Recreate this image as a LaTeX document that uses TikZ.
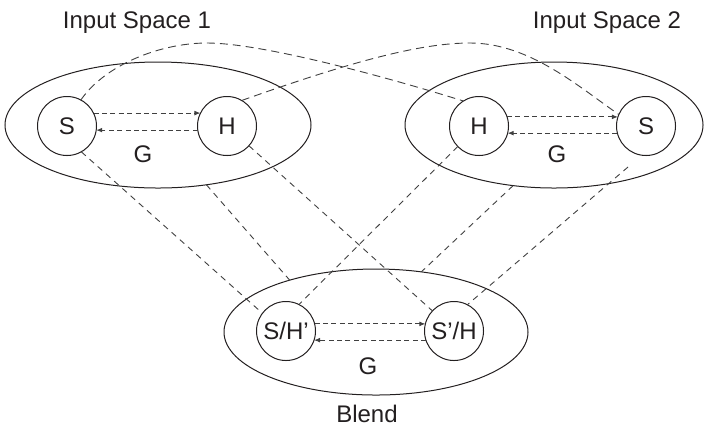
\documentclass[tikz,border=0pt]{standalone}
\usepackage{fontspec}
\setmainfont{Liberation Sans}
\usetikzlibrary{shapes.geometric,arrows.meta}
\definecolor{ink}{HTML}{231F20}
\begin{document}
\begin{tikzpicture}[x=0.5pt,y=-0.5pt,
  font=\fontsize{12}{14}\selectfont, text=ink,
  spacebox/.style={draw=ink, line width=0.5pt, ellipse, inner sep=0pt, outer sep=0pt},
  elem/.style={draw=ink, line width=0.5pt, circle, minimum size=29.5pt, inner sep=0pt, outer sep=0pt},
  rel/.style={draw=black!75, line width=0.45pt, dash pattern=on 2.5pt off 1.7pt, -{Latex[length=3pt,width=2.4pt]}},
  corr/.style={draw=black!75, line width=0.45pt, dash pattern=on 3pt off 2.5pt},
  corrc/.style={draw=black!75, line width=0.45pt, dash pattern=on 4pt off 2.5pt},
  lbl/.style={anchor=base, inner sep=0pt}
]
\useasboundingbox (0,0) rectangle (704,425);

% spaces
\node[spacebox, minimum width=153pt, minimum height=63pt] (E1) at (158,125) {};
\node[spacebox, minimum width=149pt, minimum height=63pt] (E2) at (554,125) {};
\node[spacebox, minimum width=152pt, minimum height=63pt] (E3) at (376,332) {};

% elements
\node[elem] (S1) at (67,126) {S};
\node[elem] (H1) at (227,126) {H};
\node[elem] (H2) at (479,126) {H};
\node[elem] (S2) at (646,126) {S};
\node[elem] (SH) at (286,331) {S/H’};
\node[elem] (HS) at (454,331) {S’/H};

% labels
\node[lbl] (T1) at (137,28) {Input Space 1};
\node[lbl] (T2) at (607,28) {Input Space 2};
\node[lbl] (T3) at (367,422) {Blend};
\node[lbl] (G1) at (143,162) {G};
\node[lbl] (G2) at (557,162) {G};
\node[lbl] (G3) at (368,374) {G};

% relations inside spaces
\draw[rel] (S1.26) -- (H1.154);
\draw[rel] (H1.188) -- (S1.-8);
\draw[rel] (H2.18) -- (S2.162);
\draw[rel] (S2.194) -- (H2.-14);
\draw[rel] (SH.14) -- (HS.166);
\draw[rel] (HS.198) -- (SH.-18);

% cross-space curves
\draw[corrc] (S1.62) .. controls (105,65) and (160,43) .. (207,43)
  .. controls (260,43) and (380,75) .. (H2.122);
\draw[corrc] (H1.60) .. controls (350,62) and (420,43) .. (470,43)
  .. controls (530,43) and (580,88) .. (S2.157);

% projections to blend
\coordinate (S2b) at (628,167);
\draw[corr] (S1.-61) -- (SH.143);
\draw[corr] (E1.-51) -- (E3.149);
\draw[corr] (H1.-42) -- (HS.137);
\draw[corr] (H2.224) -- (SH.64);
\draw[corr] (E2.236) -- (E3.53);
\draw[corr] (S2b) -- (HS.63);
\end{tikzpicture}
\end{document}
